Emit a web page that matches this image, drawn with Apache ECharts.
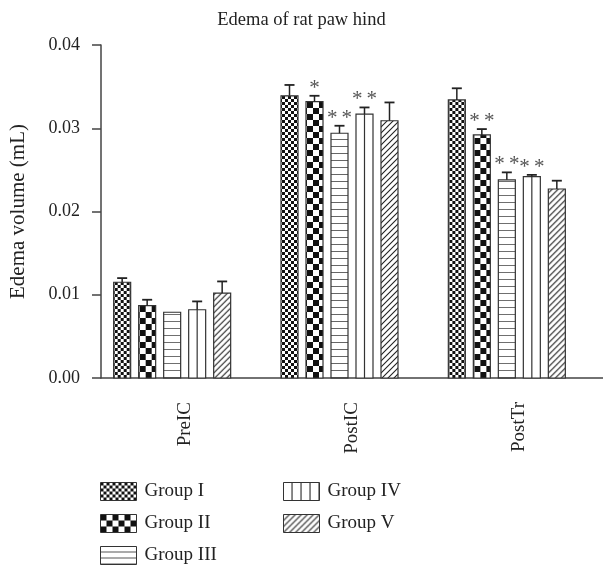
<!DOCTYPE html>
<html>
<head>
<meta charset="utf-8">
<script src="https://cdn.jsdelivr.net/npm/echarts@6/dist/echarts.min.js"></script>
<style>
  html, body { margin: 0; padding: 0; background: #fff; }
  #chart { width: 603px; height: 567px; }
</style>
</head>
<body>
<div id="chart"></div>
<script>
// data (mean and error per time point)
const categories = ['PreIC', 'PostIC', 'PostTr'];
const groupNames = ['Group I', 'Group II', 'Group III', 'Group IV', 'Group V'];
const meanI = [0.0115, 0.0339, 0.0334];
const meanII = [0.0087, 0.0332, 0.0292];
const meanIII = [0.0079, 0.0294, 0.0238];
const meanIV = [0.0082, 0.0317, 0.0242];
const meanV = [0.0102, 0.0309, 0.0227];
const errI = [0.0005, 0.0013, 0.0014];
const errII = [0.0007, 0.0007, 0.0007];
const errIII = [0, 0.0009, 0.0009];
const errIV = [0.0010, 0.0008, 0.0002];
const errV = [0.0014, 0.0022, 0.0010];
const starsI = ['', '', ''];
const starsII = ['', '*', '*\u2009*'];
const starsIII = ['', '*\u2009*', '*\u2009*'];
const starsIV = ['', '*\u2009*', '*\u2009*'];
const starsV = ['', '', ''];

const means = [meanI, meanII, meanIII, meanIV, meanV];
const errs = [errI, errII, errIII, errIV, errV];
const stars = [starsI, starsII, starsIII, starsIV, starsV];

const FONT = '"Liberation Serif", "DejaVu Serif", serif';
const INK = '#222';

function makePattern(w, h, draw) {
  const c = document.createElement('canvas');
  c.width = w; c.height = h;
  const ctx = c.getContext('2d');
  ctx.fillStyle = '#fff';
  ctx.fillRect(0, 0, w, h);
  draw(ctx);
  return { image: c, repeat: 'repeat' };
}

// fills for each group
const fills = [
  makePattern(6, 6, ctx => {            // fine checker
    ctx.fillStyle = '#111';
    ctx.fillRect(0, 0, 3, 3);
    ctx.fillRect(3, 3, 3, 3);
  }),
  makePattern(12, 12, ctx => {          // coarse checker
    ctx.fillStyle = '#111';
    ctx.fillRect(0, 0, 6, 6);
    ctx.fillRect(6, 6, 6, 6);
  }),
  makePattern(8, 7, ctx => {            // horizontal lines
    ctx.fillStyle = '#666';
    ctx.fillRect(0, 6, 8, 1);
  }),
  '#fff',                               // plain, middle line drawn separately
  makePattern(6, 6, ctx => {            // diagonal hatch
    ctx.strokeStyle = '#222';
    ctx.lineWidth = 1.1;
    ctx.beginPath();
    ctx.moveTo(-1, 7); ctx.lineTo(7, -1);
    ctx.moveTo(-1, 1); ctx.lineTo(1, -1);
    ctx.moveTo(5, 7); ctx.lineTo(7, 5);
    ctx.stroke();
  })
];

// legend icons (group IV shows several columns there)
const legendFills = fills.slice();
legendFills[2] = makePattern(8, 6, ctx => {
  ctx.fillStyle = '#555';
  ctx.fillRect(0, 5, 8, 1);
});
legendFills[3] = makePattern(9, 9, ctx => {
  ctx.fillStyle = '#222';
  ctx.fillRect(8, 0, 1, 9);
});

const BAR_W = 17;
const PITCH = 25;
const SHIFT = -12.5;

function renderGroup(gi) {
  return function (params, api) {
    const ci = api.value(0);
    const mean = api.value(1);
    const err = api.value(2);
    const base = api.coord([ci, 0]);
    const top = api.coord([ci, mean]);
    const errTop = api.coord([ci, mean + err]);
    const cx = base[0] + SHIFT + (gi - 2) * PITCH;
    const left = cx - BAR_W / 2;
    const fill = typeof fills[gi] === 'string'
      ? fills[gi]
      : Object.assign({}, fills[gi], { x: left + 1, y: base[1] });
    const children = [{
      type: 'rect',
      shape: { x: left, y: top[1], width: BAR_W, height: base[1] - top[1] },
      style: { fill: fill, stroke: '#333', lineWidth: 1.2 }
    }];
    if (gi === 3) {
      children.push({
        type: 'line',
        shape: { x1: cx, y1: top[1], x2: cx, y2: base[1] },
        style: { stroke: '#333', lineWidth: 1.2 }
      });
    }
    if (err > 0) {
      children.push({
        type: 'line',
        shape: { x1: cx, y1: top[1], x2: cx, y2: errTop[1] },
        style: { stroke: INK, lineWidth: 1.5 }
      });
      children.push({
        type: 'line',
        shape: { x1: cx - 5, y1: errTop[1], x2: cx + 5, y2: errTop[1] },
        style: { stroke: INK, lineWidth: 1.8 }
      });
    }
    const s = stars[gi][ci];
    if (s) {
      children.push({
        type: 'text',
        style: {
          x: cx, y: errTop[1] + 3, text: s,
          align: 'center', verticalAlign: 'bottom',
          font: '21px ' + FONT, fill: '#555'
        }
      });
    }
    return { type: 'group', children: children };
  };
}

const series = groupNames.map((name, gi) => ({
  name: name,
  type: 'custom',
  renderItem: renderGroup(gi),
  itemStyle: { color: legendFills[gi], borderColor: '#333', borderWidth: 1 },
  encode: { x: 0, y: [1, 2] },
  data: categories.map((c, ci) => [ci, means[gi][ci], errs[gi][ci]])
}));

function legendItems(names) {
  return names.map(n => {
    const gi = groupNames.indexOf(n);
    return {
      name: n,
      itemStyle: { color: legendFills[gi], borderColor: '#333', borderWidth: 1 }
    };
  });
}

const legendCommon = {
  orient: 'vertical',
  top: 482,
  height: 85,
  padding: 0,
  itemWidth: 36,
  itemHeight: 18,
  itemGap: 13,
  icon: 'rect',
  selectedMode: false,
  textStyle: { fontFamily: FONT, fontSize: 19, color: INK, padding: [0, 0, 0, 3] }
};

const chart = echarts.init(document.getElementById('chart'));
chart.setOption({
  animation: false,
  backgroundColor: '#fff',
  title: {
    text: 'Edema of rat paw hind',
    left: 'center',
    top: 6,
    textStyle: { fontFamily: FONT, fontSize: 18.5, fontWeight: 'normal', color: INK }
  },
  legend: [
    Object.assign({}, legendCommon, { left: 100, data: legendItems(['Group I', 'Group II', 'Group III']) }),
    Object.assign({}, legendCommon, { left: 283, data: legendItems(['Group IV', 'Group V']) })
  ],
  grid: { left: 99, right: 0, top: 45, bottom: 189, containLabel: false },
  xAxis: {
    type: 'category',
    data: categories,
    axisLine: { lineStyle: { color: '#444', width: 1.5 } },
    axisTick: { alignWithLabel: true, length: 9, lineStyle: { color: '#444', width: 1.5 } },
    axisLabel: { rotate: 90, margin: 24, fontFamily: FONT, fontSize: 19, color: INK }
  },
  yAxis: {
    type: 'value',
    min: 0,
    max: 0.04,
    interval: 0.01,
    name: 'Edema volume (mL)',
    nameLocation: 'middle',
    nameGap: 72,
    nameTextStyle: { fontFamily: FONT, fontSize: 21, color: INK },
    axisLine: { show: true, lineStyle: { color: '#444', width: 1.5 } },
    axisTick: { show: true, length: 9, lineStyle: { color: '#444', width: 1.5 } },
    axisLabel: {
      margin: 21, fontFamily: FONT, fontSize: 18, color: INK,
      formatter: v => v.toFixed(2)
    },
    splitLine: { show: false }
  },
  series: series
});
</script>
</body>
</html>
